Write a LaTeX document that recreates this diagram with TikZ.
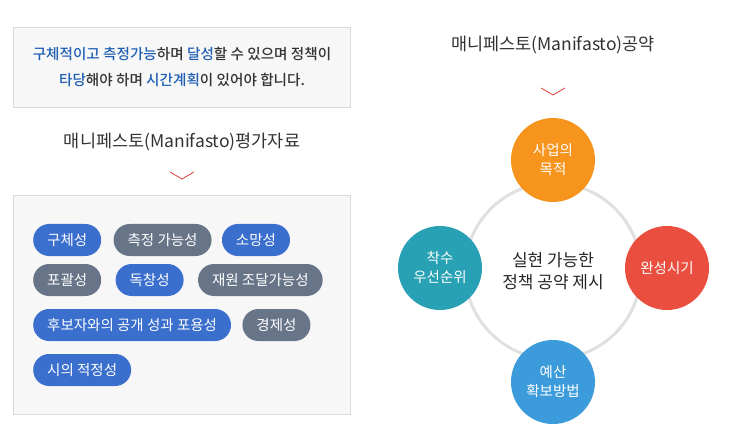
\documentclass[tikz,border=0pt]{standalone}
\usepackage{fontspec}
\setmainfont{Noto Sans CJK KR}
\newfontfamily\medfont{Noto Sans CJK KR Medium}
\usetikzlibrary{positioning}
\definecolor{pillblue}{HTML}{3A6FCD}
\definecolor{pillgray}{HTML}{687488}
\definecolor{txtblue}{HTML}{1F5FB4}
\definecolor{chev}{HTML}{E0413A}
\definecolor{cOrange}{HTML}{F7941D}
\definecolor{cRed}{HTML}{EA4E3F}
\definecolor{cBlue}{HTML}{3C9BDA}
\definecolor{cTeal}{HTML}{27A1B3}

\begin{document}
\begin{tikzpicture}[x=1pt, y=-1pt]
				\tikzstyle{panel} = [draw=black!15, fill=black!3]
				\tikzstyle{title} = [font=\fontsize{17.5}{20}\selectfont, text=black!80]
				\tikzstyle{pill} = [rounded corners=16pt, minimum height=32pt, text=white, font=\fontsize{14.5}{16}\selectfont, inner xsep=14pt]
				\tikzstyle{sub} = [circle, minimum size=84pt, inner sep=1pt, text=white, align=center, font=\fontsize{14.5}{19}\selectfont]
				\tikzstyle{chevron} = [draw=chev, line width=0.8pt]
				
				\useasboundingbox (0,0) rectangle (745,441);
				% left column
				\draw[panel] (13,27) rectangle (350,107);
				\node[align=center, font=\medfont\fontsize{14.6}{26}\selectfont, text=black!80] at (182,67) (goal)
				{{\color{txtblue}구체적이고} {\color{txtblue}측정가능}하며 {\color{txtblue}달성}할 수 있으며 정책이\\
				{\color{txtblue}타당}해야 하며 {\color{txtblue}시간계획}이 있어야 합니다.};
				\node[title] at (182,142) (evaltitle) {매니페스토(Manifasto)평가자료};
				\draw[chevron] (170,172) -- (182,179) -- (194,172);
				\draw[panel] (13,195) rectangle (350,414);
				
				\node[pill, fill=pillblue, anchor=west] at (33,240) (p1) {구체성};
				\node[pill, fill=pillgray, right=12pt of p1] (p2) {측정 가능성};
				\node[pill, fill=pillblue, right=10pt of p2] (p3) {소망성};
				\node[pill, fill=pillgray, anchor=west] at (33,280) (p4) {포괄성};
				\node[pill, fill=pillblue, right=14pt of p4] (p5) {독창성};
				\node[pill, fill=pillgray, right=14pt of p5] (p6) {재원 조달가능성};
				\node[pill, fill=pillblue, anchor=west] at (33,325) (p7) {후보자와의 공개 성과 포용성};
				\node[pill, fill=pillgray, right=11pt of p7] (p8) {경제성};
				\node[pill, fill=pillblue, anchor=west] at (33,370) (p9) {시의 적정성};
				
				% right column
				\node[title] at (553,45) (pledgetitle) {매니페스토(Manifasto)공약};
				\draw[chevron] (541,88) -- (553,95) -- (565,88);
				\node[circle, draw=black!12, line width=3pt, minimum size=176pt, align=center,
				      font=\fontsize{17}{22}\selectfont, text=black!85] at (553,271) (core) {실현 가능한\\정책 공약 제시};
				\node[sub, fill=cOrange] at (553,160) (s1) {사업의\\목적};
				\node[sub, fill=cRed] at (667,268) (s2) {완성시기};
				\node[sub, fill=cBlue] at (553,382) (s3) {예산\\확보방법};
				\node[sub, fill=cTeal] at (440,268) (s4) {착수\\우선순위};
			\end{tikzpicture}
\end{document}
